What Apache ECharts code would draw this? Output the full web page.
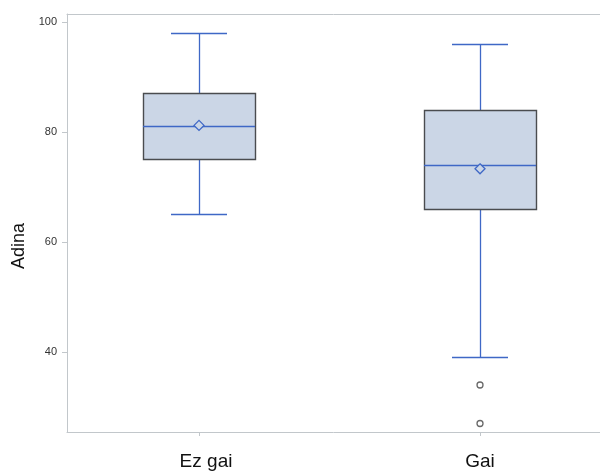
<!DOCTYPE html>
<html>
<head>
<meta charset="utf-8">
<script src="https://cdn.jsdelivr.net/npm/echarts@6/dist/echarts.min.js"></script>
<style>
html,body{margin:0;padding:0;background:#fff;}
#main{width:600px;height:475px;}
</style>
</head>
<body>
<div id="main"></div>
<script>
// ---- data ----
var categories = ['Ez gai', 'Gai'];
var categoryPos = [1, 2];
var lowWhisker = [65, 39];
var q1 = [75, 66];
var median = [81, 74];
var q3 = [87, 84];
var highWhisker = [98, 96];
var means = [81.2, 73.3];
var outlierCategory = [2, 2];
var outlierValue = [34, 27];
var yTicks = [40, 60, 80, 100];

var boxData = categoryPos.map(function (p, i) {
  return [p, lowWhisker[i], q1[i], median[i], q3[i], highWhisker[i], means[i]];
});
var outlierData = outlierCategory.map(function (c, i) { return [c, outlierValue[i]]; });

var BLUE = '#3f68c6';
var AXIS = '#c2c7cb';
var FONT = 'Liberation Sans, Arial, sans-serif';
var chart = echarts.init(document.getElementById('main'), null, {renderer: 'canvas'});

function renderBox(params, api) {
  var x = api.value(0);
  var lo = api.value(1), a = api.value(2), m = api.value(3), b = api.value(4), hi = api.value(5), mn = api.value(6);
  var halfBox = 0.2, halfCap = 0.1;
  var pL = api.coord([x - halfBox, b]);
  var pR = api.coord([x + halfBox, a]);
  var c = api.coord([x, 0])[0];
  var capL = api.coord([x - halfCap, 0])[0];
  var capR = api.coord([x + halfCap, 0])[0];
  var yLo = api.coord([x, lo])[1], yQ1 = api.coord([x, a])[1], yMed = api.coord([x, m])[1];
  var yQ3 = api.coord([x, b])[1], yHi = api.coord([x, hi])[1], yMean = api.coord([x, mn])[1];
  var r = Math.round;
  function h(v){ return r(v) + 0.5; }
  var ls = {stroke: BLUE, lineWidth: 1.3, fill: null};
  var d = 5;
  return {
    type: 'group',
    children: [
      {type: 'line', shape: {x1: h(c), y1: h(yHi), x2: h(c), y2: h(yQ3)}, style: ls},
      {type: 'line', shape: {x1: h(c), y1: h(yQ1), x2: h(c), y2: h(yLo)}, style: ls},
      {type: 'line', shape: {x1: r(capL), y1: h(yHi), x2: r(capR), y2: h(yHi)}, style: ls},
      {type: 'line', shape: {x1: r(capL), y1: h(yLo), x2: r(capR), y2: h(yLo)}, style: ls},
      {type: 'rect', shape: {x: h(pL[0]), y: h(pL[1]), width: r(pR[0] - pL[0]), height: r(pR[1] - pL[1])},
        style: {fill: '#cbd6e6', stroke: '#4a4c4f', lineWidth: 1.4}},
      {type: 'line', shape: {x1: r(pL[0]), y1: h(yMed), x2: r(pR[0]), y2: h(yMed)}, style: ls},
      {type: 'polygon', shape: {points: [[c, yMean - d], [c + d, yMean], [c, yMean + d], [c - d, yMean]]},
        style: {fill: '#cbd6e6', stroke: BLUE, lineWidth: 1.3}}
    ]
  };
}

var xMin = 0.5302, xMax = 2.4270;

chart.setOption({
  animation: false,
  backgroundColor: '#fff',
  grid: {left: 67, top: 14, right: 0, bottom: 43},
  xAxis: [{
    type: 'value',
    min: xMin,
    max: xMax,
    splitLine: {show: false},
    axisLine: {show: true, onZero: false, lineStyle: {color: AXIS}},
    axisTick: {show: true, length: 4, customValues: categoryPos, lineStyle: {color: AXIS}},
    axisLabel: {
      customValues: categoryPos, margin: 20,
      fontFamily: FONT, fontSize: 19, color: '#111',
      formatter: function (v) {
        var i = Math.round(v) - 1;
        return i === 0 ? '{a|' + categories[i] + '}' : (categories[i] || '');
      },
      rich: {a: {fontFamily: FONT, fontSize: 19, color: '#111', padding: [0, 0, 0, 14]}}
    }
  }, {
    type: 'value',
    position: 'top',
    min: xMin,
    max: xMax,
    splitLine: {show: false},
    axisLine: {show: true, onZero: false, lineStyle: {color: AXIS}},
    axisTick: {show: false},
    axisLabel: {show: false}
  }],
  yAxis: {
    type: 'value',
    min: 25.45,
    max: 101.45,
    name: 'Adina',
    nameLocation: 'middle',
    nameGap: 38,
    nameTextStyle: {fontFamily: FONT, fontSize: 18, color: '#111', padding: [0, 46, 0, 0]},
    splitLine: {show: false},
    axisLine: {show: true, lineStyle: {color: AXIS}},
    axisTick: {show: true, length: 5, customValues: yTicks, lineStyle: {color: AXIS}},
    axisLabel: {customValues: yTicks, margin: 10, fontFamily: FONT, fontSize: 11, color: '#333'}
  },
  series: [
    {type: 'custom', data: boxData, renderItem: renderBox, encode: {x: 0, y: [1, 5]}, z: 2},
    {type: 'scatter', data: outlierData, symbol: 'circle', symbolSize: 6,
      itemStyle: {color: '#fff', borderColor: '#444', borderWidth: 1.3}, z: 3}
  ]
});
</script>
</body>
</html>
